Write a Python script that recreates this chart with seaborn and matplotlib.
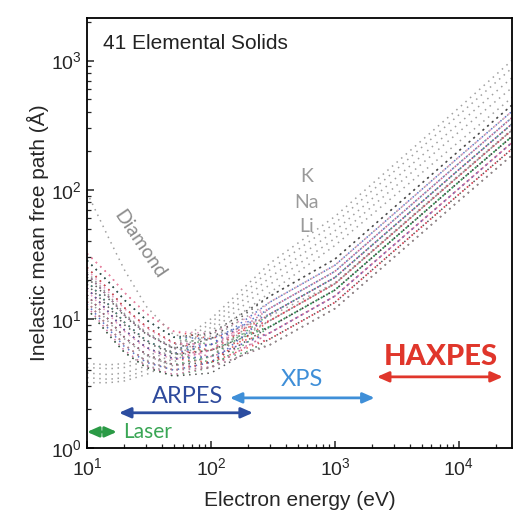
import numpy as np
import pandas as pd
import seaborn as sns
import matplotlib.pyplot as plt

# Inelastic mean free path curves for 41 elemental solids
energy = [10, 15, 20, 30, 50, 100, 300, 1000, 10000, 27000]

# main band (transition metals, semiconductors etc.)
main_band = [
    [32, 22, 16, 11, 8, 7.0, 9.7, 18.7, 128, 291],
    [32, 22, 16, 11, 8, 7.7, 12.1, 23.3, 160, 364],
    [28.3, 19.2, 14.0, 9.8, 7.2, 7.0, 10.9, 20.9, 143, 325],
    [28.3, 19.2, 14.0, 9.8, 7.2, 6.3, 8.7, 16.7, 115, 260],
    [28.3, 19.2, 14.0, 9.8, 7.2, 7.7, 15, 29, 200, 455],
    [25.0, 16.8, 12.2, 8.7, 6.5, 6.3, 9.7, 18.7, 128, 291],
    [25.0, 16.8, 12.2, 8.7, 6.5, 7.0, 13.5, 26.0, 179, 407],
    [25.0, 16.8, 12.2, 8.7, 6.5, 5.7, 7.8, 15.0, 102, 233],
    [24.0, 16.0, 12.0, 8.5, 6.4, 6.3, 10.9, 20.9, 143, 325],
    [22.2, 14.7, 10.7, 7.7, 5.9, 6.3, 12.1, 23.3, 160, 364],
    [22.2, 14.7, 10.7, 7.7, 5.9, 5.7, 8.7, 16.7, 115, 260],
    [21.0, 14.2, 10.5, 7.6, 5.9, 7.0, 15, 29, 200, 455],
    [22.2, 14.7, 10.7, 7.7, 5.9, 5.1, 7.0, 13.4, 92, 208],
    [23.0, 15.2, 11.0, 7.9, 6.0, 5.7, 9.7, 18.7, 128, 291],
    [19.6, 12.8, 9.4, 6.8, 5.4, 5.7, 10.9, 20.9, 143, 325],
    [19.6, 12.8, 9.4, 6.8, 5.4, 5.1, 7.8, 15.0, 102, 233],
    [19.6, 12.8, 9.4, 6.8, 5.4, 6.3, 13.5, 26.0, 179, 407],
    [19.6, 12.8, 9.4, 6.8, 5.4, 4.6, 6.3, 12, 82, 186],
    [18.5, 12.2, 9.0, 6.6, 5.3, 5.7, 8.7, 16.7, 115, 260],
    [17.3, 11.2, 8.2, 6.0, 4.9, 5.7, 12.1, 23.3, 160, 364],
    [17.3, 11.2, 8.2, 6.0, 4.9, 5.1, 9.7, 18.7, 128, 291],
    [17.3, 11.2, 8.2, 6.0, 4.9, 4.6, 7.0, 13.4, 92, 208],
    [16.5, 10.8, 8.0, 5.9, 4.8, 5.7, 13.5, 26.0, 179, 407],
    [17.3, 11.2, 8.2, 6.0, 4.9, 5.1, 7.8, 15.0, 102, 233],
    [15.3, 9.8, 7.2, 5.3, 4.4, 5.1, 10.9, 20.9, 143, 325],
    [15.3, 9.8, 7.2, 5.3, 4.4, 4.6, 8.7, 16.7, 115, 260],
    [15.3, 9.8, 7.2, 5.3, 4.4, 4.2, 6.3, 12, 82, 186],
    [14.5, 9.4, 7.0, 5.2, 4.3, 5.1, 12.1, 23.3, 160, 364],
    [13.6, 8.6, 6.3, 4.7, 4.0, 4.6, 9.7, 18.7, 128, 291],
    [13.6, 8.6, 6.3, 4.7, 4.0, 4.2, 7.8, 15.0, 102, 233],
    [13.0, 8.3, 6.1, 4.6, 4.0, 4.6, 10.9, 20.9, 143, 325],
    [12, 7.5, 5.5, 4.2, 3.6, 4.2, 8.7, 16.7, 115, 260],
    [12, 7.5, 5.5, 4.2, 3.6, 3.8, 7.0, 13.4, 92, 208],
    [12.5, 7.8, 5.7, 4.3, 3.7, 4.2, 7.8, 15.0, 102, 233],
    [13.6, 8.6, 6.3, 4.7, 4.0, 4.2, 6.3, 12, 82, 186],
]

# free-electron-like metals (Cs, K, Na, Li, ...) : low minimum, large IMFP at high energy
alkali_group = [
    [4.5, 4.4, 4.5, 5.1, 6.2, 10.0, 27, 62, 430, 1010],
    [4.2, 4.1, 4.2, 4.7, 5.8, 9.3, 24, 55, 380, 880],
    [3.8, 3.7, 3.8, 4.3, 5.3, 8.6, 21, 48, 325, 740],
    [3.5, 3.4, 3.5, 4.0, 4.9, 8.0, 18.5, 42, 280, 620],
    [3.2, 3.2, 3.3, 3.7, 4.6, 7.4, 16, 37, 235, 520],
]

diamond = [95, 42, 24, 12.5, 7.5, 7.0, 10.5, 19, 130, 295]

band_colors = ['#e23a3f', '#e48ab8', '#3f5fbf', '#3c9a5c', '#3a3a3a', '#c2608f', '#8a8a8a']
grey = '#8f8f8f'

rows = []
colors = []
for i, vals in enumerate(main_band):
    for e, v in zip(energy, vals):
        rows.append(('m%02d' % i, e, v))
    colors.append(band_colors[i % len(band_colors)])
for i, vals in enumerate(alkali_group):
    for e, v in zip(energy, vals):
        rows.append(('a%02d' % i, e, v))
    colors.append(grey)
for e, v in zip(energy, diamond):
    rows.append(('diamond', e, v))
colors.append(grey)

df = pd.DataFrame(rows, columns=['solid', 'energy', 'imfp'])

sns.set_style('ticks')
plt.rcParams['font.family'] = ['Liberation Sans', 'DejaVu Sans']
plt.rcParams['axes.linewidth'] = 1.3

fig = plt.figure(figsize=(5.18, 5.19), dpi=100)
ax = fig.add_axes([0.168, 0.137, 0.820, 0.829])

sns.lineplot(data=df, x='energy', y='imfp', hue='solid', palette=colors,
             estimator=None, sort=False, legend=False, ax=ax,
             linestyle=(0, (1, 3)), lw=1.1, alpha=0.85)

ax.set_xscale('log')
ax.set_yscale('log')
ax.set_xlim(10, 26700)
ax.set_ylim(1, 2150)
ax.set_xlabel('Electron energy (eV)', fontsize=15, labelpad=8)
ax.set_ylabel('Inelastic mean free path (Å)', fontsize=15, labelpad=2)
ax.tick_params(which='both', direction='in', top=False, right=False, labelsize=14)
ax.tick_params(axis='x', which='major', pad=7)
ax.tick_params(which='major', length=5, width=1.1)
ax.tick_params(which='minor', length=3, width=0.9)
for s in ax.spines.values():
    s.set_color('black')

ax.text(0.037, 0.94, '41 Elemental Solids', transform=ax.transAxes,
        fontsize=15, ha='left', va='center', color='#222222')

gill = ['Lato', 'DejaVu Sans']
ax.text(26.5, 38, 'Diamond', rotation=-56, rotation_mode='anchor', ha='center', va='center',
        fontsize=14, color='#8c8c8c', family=gill)
for lab, yv in zip(['K', 'Na', 'Li'], [126, 79, 52]):
    ax.text(594, yv, lab, ha='center', va='center', fontsize=14, color='#9a9a9a', family=gill)

# technique ranges
def span(x1, x2, y, c):
    ax.annotate('', xy=(x2, y), xytext=(x1, y),
                arrowprops=dict(arrowstyle='<|-|>,head_length=0.5,head_width=0.22',
                                color=c, lw=2, mutation_scale=14, shrinkA=0, shrinkB=0))

span(10, 17.4, 1.33, '#2a9a45')
ax.text(19.5, 1.33, 'Laser', ha='left', va='center', fontsize=15, color='#3aa655', family=gill)
span(18.1, 218, 1.87, '#2c4da0')
ax.text(65, 2.49, 'ARPES', ha='center', va='center', fontsize=17, color='#2e4a9c', family=gill)
span(142, 2090, 2.44, '#3f8fd8')
ax.text(542, 3.37, 'XPS', ha='center', va='center', fontsize=17, color='#3f8fd8', family=gill)
span(2180, 22600, 3.55, '#e0362b')
ax.text(7160, 5.08, 'HAXPES', ha='center', va='center', fontsize=21, fontweight='black',
        color='#e0362b', family=gill)

fig.savefig('out.png', dpi=100)
